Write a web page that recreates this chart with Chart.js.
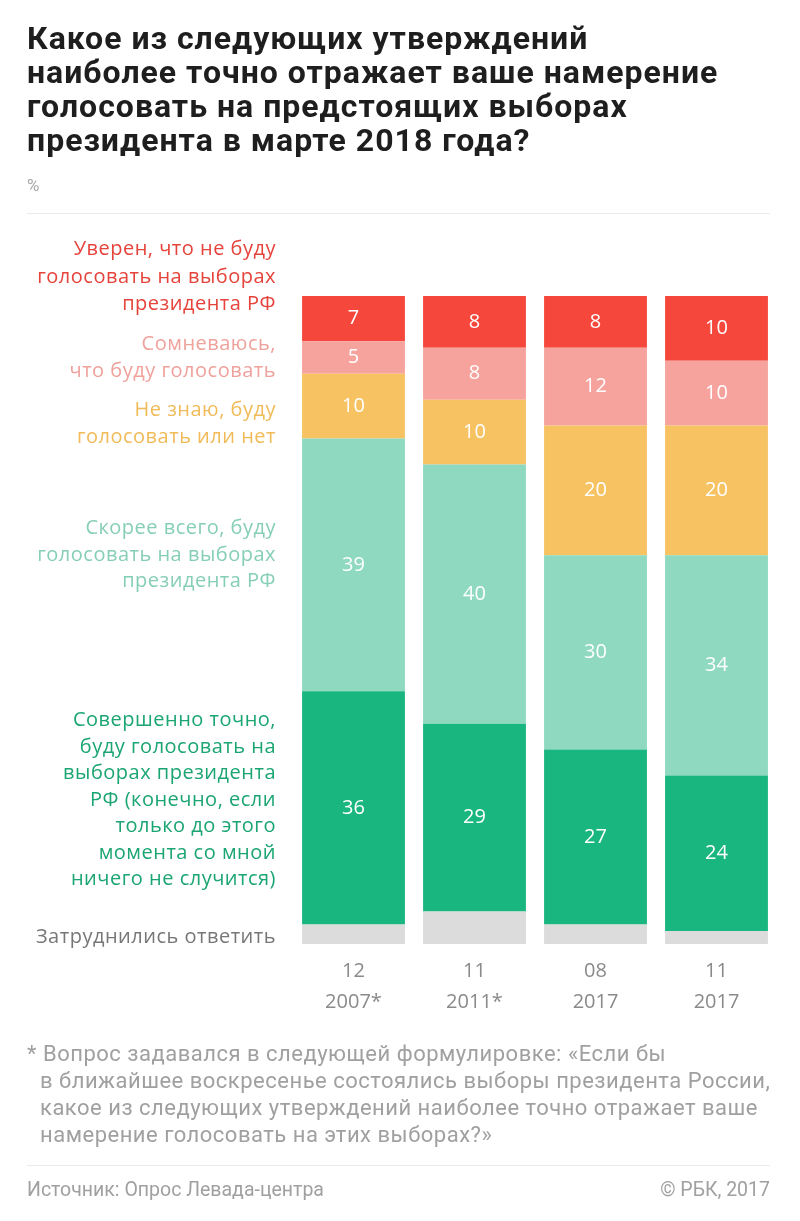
<!DOCTYPE html>
<html>
<head>
<meta charset="utf-8">
<script src="https://cdn.jsdelivr.net/npm/chart.js@4/dist/chart.umd.min.js"></script>
<style>
  body { margin: 0; background: #fff; width: 800px; height: 1221px; position: relative; overflow: hidden; font-family: "Open Sans", sans-serif; }
  #wrap { position: absolute; left: 0; top: 0; width: 800px; height: 1221px; }
  .title { position: absolute; left: 27px; top: 21px; font: bold 32px/34px Roboto, sans-serif; color: #1e1e1e; letter-spacing: 1px; white-space: nowrap; }
  .unit { position: absolute; left: 27px; top: 174px; font: 17px/22px Roboto, sans-serif; color: #aaa; }
  .rule { position: absolute; left: 27px; width: 743px; height: 1px; background: #ebebeb; }
  .lbl { position: absolute; right: 524px; text-align: right; font-size: 20px; letter-spacing: 0.5px; line-height: 26.5px; white-space: nowrap; }
  .note { position: absolute; left: 27px; top: 1040px; padding-left: 13px; text-indent: -13px; font: 22px/27px Roboto, sans-serif; letter-spacing: 0.5px; color: #a0a0a0; white-space: nowrap; }
  .src { position: absolute; top: 1178px; font: 19.5px/24px Roboto, sans-serif; color: #a0a0a0; }
</style>
</head>
<body>
<div id="wrap"><canvas id="chart"></canvas></div>

<div class="title">Какое из следующих утверждений<br>наиболее точно отражает ваше намерение<br>голосовать на предстоящих выборах<br>президента в марте 2018 года?</div>
<div class="unit">%</div>
<div class="rule" style="top:213px"></div>

<div class="lbl" style="top:234px;color:#e5433b;line-height:27.5px">Уверен, что не буду<br>голосовать на выборах<br>президента РФ</div>
<div class="lbl" style="top:330px;color:#efa19b">Сомневаюсь,<br>что буду голосовать</div>
<div class="lbl" style="top:396px;color:#f0bb58">Не знаю, буду<br>голосовать или нет</div>
<div class="lbl" style="top:514px;color:#86cfb5">Скорее всего, буду<br>голосовать на выборах<br>президента РФ</div>
<div class="lbl" style="top:706px;color:#1ba572">Совершенно точно,<br>буду голосовать на<br>выборах президента<br>РФ (конечно, если<br>только до этого<br>момента со мной<br>ничего не случится)</div>
<div class="lbl" style="top:923px;color:#777">Затруднились ответить</div>

<div class="note">* Вопрос задавался в следующей формулировке: «Если бы<br>в ближайшее воскресенье состоялись выборы президента России,<br>какое из следующих утверждений наиболее точно отражает ваше<br>намерение голосовать на этих выборах?»</div>
<div class="rule" style="top:1165px"></div>
<div class="src" style="left:27px">Источник: Опрос Левада-центра</div>
<div class="src" style="right:30px">© РБК, 2017</div>

<script>
const months = ["12", "11", "08", "11"];
const years = ["2007*", "2011*", "2017", "2017"];
const hardToSay = [3, 5, 3, 2];
const definitelyYes = [36, 29, 27, 24];
const probablyYes = [39, 40, 30, 34];
const dontKnow = [10, 10, 20, 20];
const doubt = [5, 8, 12, 10];
const definitelyNo = [7, 8, 8, 10];

const labels = months.map((m, i) => [m, years[i]]);

// white numbers in the middle of each segment
const valueLabels = {
  id: "valueLabels",
  afterDatasetsDraw(chart) {
    const ctx = chart.ctx;
    ctx.save();
    ctx.font = '20px "Open Sans"';
    ctx.fillStyle = "#fff";
    ctx.textAlign = "center";
    ctx.textBaseline = "middle";
    chart.data.datasets.forEach((ds, i) => {
      if (!ds.showValues) return;
      chart.getDatasetMeta(i).data.forEach((bar, j) => {
        const p = bar.getProps(["x", "y", "base"], true);
        ctx.fillText(ds.data[j], p.x, (p.y + p.base) / 2);
      });
    });
    ctx.restore();
  }
};

new Chart(document.getElementById("chart"), {
  type: "bar",
  data: {
    labels: labels,
    datasets: [
      { data: hardToSay, backgroundColor: "#dcdcdc", showValues: false },
      { data: definitelyYes, backgroundColor: "#19b67f", showValues: true },
      { data: probablyYes, backgroundColor: "#8ed9c0", showValues: true },
      { data: dontKnow, backgroundColor: "#f6c262", showValues: true },
      { data: doubt, backgroundColor: "#f6a29d", showValues: true },
      { data: definitelyNo, backgroundColor: "#f5473b", showValues: true }
    ]
  },
  options: {
    responsive: true,
    maintainAspectRatio: false,
    animation: false,
    layout: { padding: { left: 293, right: 23, top: 296, bottom: 197 } },
    datasets: { bar: { categoryPercentage: 1, barPercentage: 0.85, borderWidth: 0 } },
    plugins: { legend: { display: false }, tooltip: { enabled: false } },
    scales: {
      x: {
        stacked: true,
        grid: { display: false, drawTicks: false },
        border: { display: false },
        ticks: { color: "#8a8a8a", font: { family: "Open Sans", size: 20, lineHeight: 1.55 }, padding: 12 },
        afterFit(axis) { axis.height = 80; }
      },
      y: { stacked: true, display: false, min: 0, max: 100 }
    }
  },
  plugins: [valueLabels]
});
</script>
</body>
</html>
